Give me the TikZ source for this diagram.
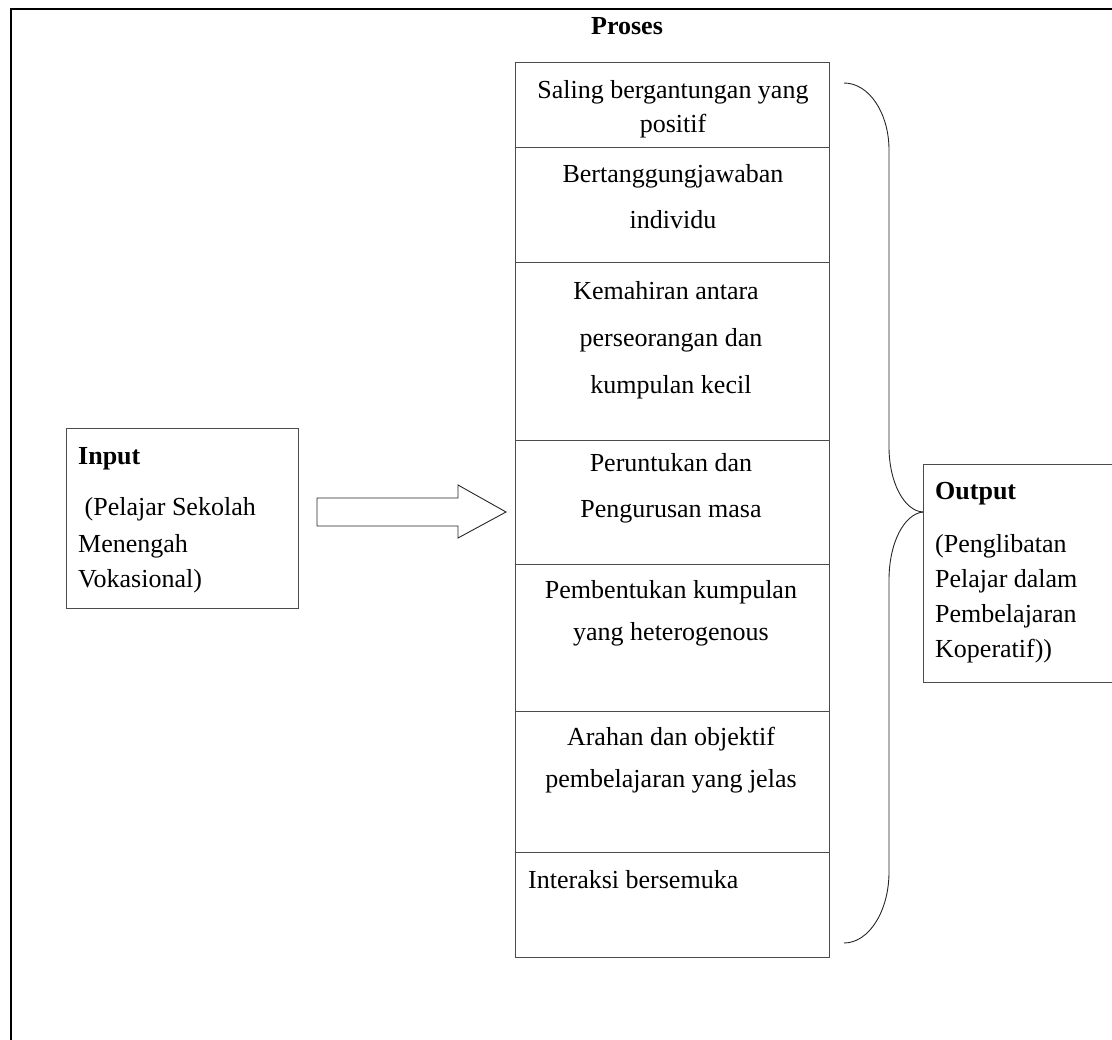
\documentclass[tikz,border=0pt]{standalone}
\usepackage{fontspec}
\setmainfont{Liberation Serif}
\begin{document}
\begin{tikzpicture}[x=1pt,y=-1pt,
  box/.style={draw=black!70, line width=0.9pt, minimum width=314pt, inner sep=0pt, anchor=north west},
  frameline/.style={draw=black, line width=1.3pt},
  txt/.style={anchor=base, inner sep=0pt, font=\fontsize{26}{30}\selectfont},
  ltxt/.style={anchor=base west, inner sep=0pt, font=\fontsize{26}{30}\selectfont},
  btxt/.style={anchor=base west, inner sep=0pt, font=\fontsize{26}{30}\selectfont\bfseries},
  bracket/.style={draw=black!85, line width=0.9pt},
  blockarrow/.style={draw=black!85, line width=0.9pt, fill=white}]
\useasboundingbox (0,0) rectangle (1112,1040);
\clip (0,0) rectangle (1112,1040);
% outer frame (cropped at right and bottom)
\draw[frameline] (1130,9) -- (11,9) -- (11,1060);
% title
\node[anchor=base, inner sep=0pt, font=\fontsize{26}{30}\selectfont\bfseries] (proses) at (627,35) {Proses};
% column of process boxes
\node[box, minimum height=85pt]  (b1) at (515,62)  {};
\node[box, minimum height=115pt] (b2) at (515,147) {};
\node[box, minimum height=178pt] (b3) at (515,262) {};
\node[box, minimum height=124pt] (b4) at (515,440) {};
\node[box, minimum height=147pt] (b5) at (515,564) {};
\node[box, minimum height=141pt] (b6) at (515,711) {};
\node[box, minimum height=105pt] (b7) at (515,852) {};
\node[txt] (t1a) at (673,99)  {Saling bergantungan yang};
\node[txt] (t1b) at (673,133) {positif};
\node[txt] (t2a) at (673,183) {Bertanggungjawaban};
\node[txt] (t2b) at (673,229) {individu};
\node[txt] (t3a) at (666,300) {Kemahiran antara};
\node[txt] (t3b) at (671,347) {perseorangan dan};
\node[txt] (t3c) at (671,394) {kumpulan kecil};
\node[txt] (t4a) at (671,472) {Peruntukan dan};
\node[txt] (t4b) at (671,518) {Pengurusan masa};
\node[txt] (t5a) at (671,598) {Pembentukan kumpulan};
\node[txt] (t5b) at (671,640) {yang heterogenous};
\node[txt] (t6a) at (671,745) {Arahan dan objektif};
\node[txt] (t6b) at (671,787) {pembelajaran yang jelas};
\node[ltxt] (t7a) at (528,888) {Interaksi bersemuka};
% input box
\node[box, minimum width=232pt, minimum height=180pt] (inp) at (66,428) {};
\node[btxt] (inpT) at (78,465) {Input};
\node[ltxt] (inp1) at (78,516) {\ (Pelajar Sekolah};
\node[ltxt] (inp2) at (78,552) {Menengah};
\node[ltxt] (inp3) at (78,587) {Vokasional)};
% output box (cropped at right)
\node[box, minimum width=220pt, minimum height=218pt] (out) at (923,464) {};
\node[btxt] (outT) at (935,500) {Output};
\node[ltxt] (out1) at (935,552) {(Penglibatan};
\node[ltxt] (out2) at (935,587) {Pelajar dalam};
\node[ltxt] (out3) at (935,622) {Pembelajaran};
\node[ltxt] (out4) at (935,657) {Koperatif))};
% block arrow
\draw[blockarrow] (317,498) -- (458,498) -- (458,485) -- (506,512) -- (458,538) -- (458,526) -- (317,526) -- cycle;
% right brace
\coordinate (brTop) at (844,83);
\coordinate (brTip) at (923,512);
\coordinate (brBot) at (844,943);
\draw[bracket] (brTop) .. controls (869,83) and (889,113) .. (889,150)
  -- (889,447) .. controls (889,482) and (904,511) .. (brTip);
\draw[bracket] (brTip) .. controls (904,514) and (889,543) .. (889,580)
  -- (889,872) .. controls (889,911) and (869,943) .. (brBot);
\end{tikzpicture}
\end{document}
